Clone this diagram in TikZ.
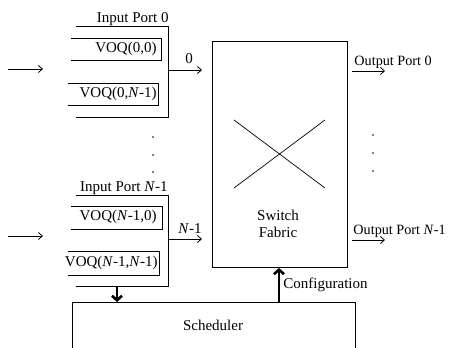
\documentclass[tikz,border=0pt]{standalone}
\usepackage{fontspec}
\setmainfont{Liberation Serif}
\usetikzlibrary{arrows.meta}
\begin{document}
\begin{tikzpicture}[x=1pt,y=-1pt,
  line width=0.9pt,
  txt/.style={font=\fontsize{15}{17}\selectfont, inner sep=0pt},
  outtxt/.style={font=\fontsize{14.2}{16}\selectfont, inner sep=0pt},
  thin arrow/.style={-{Straight Barb[length=4pt,width=7pt]}, line width=0.8pt},
  thick arrow/.style={-{Straight Barb[length=4.5pt,width=10pt]}, line width=2.6pt},
  dot/.style={circle, fill=black, inner sep=0pt, minimum size=1.6pt}]
\useasboundingbox (0,0) rectangle (450,348);
% input port 0
\coordinate (p0tl) at (76,26);
\coordinate (p0tr) at (168,26);
\coordinate (p0br) at (168,117);
\coordinate (p0bl) at (76,117);
\draw (p0tl) -- (p0tr) -- (p0br) -- (p0bl);
\node[txt, anchor=base east] (ip0) at (169,23) {Input Port 0};
\draw (71,38) -- (161,38) -- (161,60) -- (71,60);
\node[txt, anchor=east] (voq00) at (157,49) {VOQ(0,0)};
\draw (68,83) -- (158,83) -- (158,105) -- (68,105);
\node[txt, anchor=east] (voq0n) at (157,94) {VOQ(0,\textit{N}-1)};
\coordinate (in0a) at (8,69);
\coordinate (in0b) at (43,69);
\draw[thin arrow] (in0a) -- (in0b);
\coordinate (o0a) at (168,70);
\coordinate (o0b) at (202,70);
\draw[thin arrow] (o0a) -- (o0b);
\node[txt] (l0) at (189,59) {0};
% dots left
\node[dot] (d1) at (153,137) {};
\node[dot] (d2) at (153,155) {};
\node[dot] (d3) at (153,172) {};
% input port N-1
\draw (76,195) -- (168,195) -- (168,286) -- (76,286);
\node[txt, anchor=base east] (ipn) at (168,191) {Input Port \textit{N}-1};
\draw (71,206) -- (162,206) -- (162,229) -- (71,229);
\node[txt, anchor=east] (voqn0) at (157,217) {VOQ(\textit{N}-1,0)};
\draw (68,251) -- (159,251) -- (159,275) -- (68,275);
\node[txt, anchor=east] (voqnn) at (158,263) {VOQ(\textit{N}-1,\textit{N}-1)};
\coordinate (inna) at (8,236);
\coordinate (innb) at (43,236);
\draw[thin arrow] (inna) -- (innb);
\coordinate (ona) at (168,239);
\coordinate (onb) at (202,239);
\draw[thin arrow] (ona) -- (onb);
\node[txt] (ln) at (190,229) {\textit{N}-1};
% switch fabric
\node[draw, minimum width=135pt, minimum height=226pt, inner sep=0pt, anchor=north west] (sf) at (212,41) {};
\draw[line width=0.7pt] (234,120) -- (325,188);
\draw[line width=0.7pt] (234,188) -- (325,120);
\node[txt, align=center] (sft) at (278,224) {Switch\\Fabric};
% outputs
\draw[thin arrow] (352,71) -- (385,71);
\node[outtxt, anchor=west] (op0) at (354,62) {Output Port 0};
\draw[thin arrow] (352,240) -- (385,240);
\node[outtxt, anchor=west] (opn) at (353,231) {Output Port \textit{N}-1};
\node[dot] (e1) at (373,135) {};
\node[dot] (e2) at (373,153) {};
\node[dot] (e3) at (373,171) {};
% scheduler
\draw (72,348) -- (72,302) -- (355,302) -- (355,348);
\node[txt] (sch) at (213,325) {Scheduler};
\coordinate (schin) at (117,302);
\coordinate (schout) at (279,302);
\draw[thick arrow] (117,286) -- (schin);
\draw[thick arrow] (schout) -- (sf.south -| schout);
\node[txt, anchor=west] (cfg) at (283,285) {Configuration};
\end{tikzpicture}
\end{document}
